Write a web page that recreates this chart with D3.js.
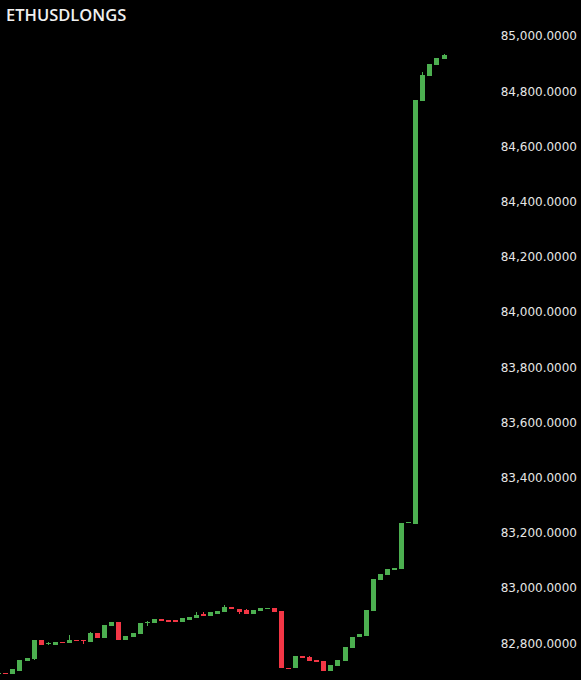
<!DOCTYPE html>
<html><head><meta charset="utf-8">
<script src="https://cdn.jsdelivr.net/npm/d3@7"></script>
<style>html,body{margin:0;padding:0;background:#000;overflow:hidden}</style>
</head><body>
<svg id="c" width="581" height="680"></svg>
<script>
const title = "ETHUSDLONGS";
const openV = [82690.0,82690.9,82688.4,82700.4,82735.5,82741.6,82811.6,82796.0,82793.5,82804.3,82799.6,82811.6,82811.6,82803.2,82835.9,82817.7,82863.4,82875.7,82811.6,82823.5,82834.4,82872.1,82872.1,82886.6,82884.0,82884.0,82877.9,82884.0,82892.4,82904.7,82898.5,82905.8,82914.1,82930.1,82923.9,82920.3,82905.8,82916.7,82922.8,82926.4,82916.7,82711.2,82709.1,82754.7,82751.1,82739.1,82735.5,82699.3,82718.5,82736.6,82783.7,82821.4,82827.2,82917.7,83028.9,83047.1,83066.3,83067.7,83234.4,83231.9,84765.6,84855.1,84894.9,84915.6];
const closeV = [82691.5,82687.3,82705.4,82739.1,82747.5,82811.6,82793.5,82799.6,82804.3,82799.6,82811.6,82806.9,82806.9,82835.9,82817.7,82865.9,82875.7,82811.6,82827.2,82838.0,82872.1,82875.7,82886.6,82880.4,82877.9,82877.9,82890.2,82896.0,82902.2,82898.5,82912.0,82916.7,82930.1,82922.8,82912.0,82905.8,82920.3,82926.4,82926.4,82913.0,82710.1,82707.6,82754.7,82746.4,82736.6,82733.0,82699.3,82721.0,82739.1,82787.3,82823.5,82832.2,82920.3,83032.6,83050.7,83067.7,83071.4,83234.4,83239.1,84768.1,84858.7,84898.6,84919.2,84931.2];
const highV = [82691.5,82690.9,82705.4,82739.1,82747.5,82811.6,82811.6,82805.4,82804.3,82804.3,82829.7,82811.6,82811.6,82841.7,82835.9,82865.9,82875.7,82875.7,82827.2,82838.0,82872.1,82880.4,82886.6,82886.6,82884.0,82884.0,82892.4,82896.0,82912.0,82912.0,82912.0,82916.7,82938.4,82930.1,82923.9,82923.9,82920.3,82926.4,82926.4,82926.4,82916.7,82711.2,82754.7,82754.7,82754.7,82739.1,82735.5,82721.0,82739.1,82787.3,82823.5,82832.2,82920.3,83032.6,83050.7,83067.7,83071.4,83234.4,83239.1,84768.1,84868.5,84898.6,84919.2,84933.7];
const lowV = [82690.0,82687.3,82688.4,82700.4,82735.5,82739.1,82793.5,82793.5,82793.5,82799.6,82799.6,82806.9,82797.1,82803.2,82817.7,82817.7,82863.4,82811.6,82811.6,82823.5,82834.4,82863.4,82872.1,82880.4,82877.9,82877.9,82877.9,82884.0,82892.4,82898.5,82898.5,82905.8,82914.1,82922.8,82905.8,82905.8,82905.8,82916.7,82922.8,82913.0,82710.1,82707.6,82709.1,82746.4,82736.6,82733.0,82699.3,82699.3,82718.5,82736.6,82783.7,82821.4,82827.2,82917.7,83028.9,83047.1,83066.3,83067.7,83234.4,83231.9,84765.6,84855.1,84894.9,84915.6];
const tickValues = [82800,83000,83200,83400,83600,83800,84000,84200,84400,84600,84800,85000];

const svg = d3.select("#c");
const idx = d3.range(openV.length);
const x = d3.scaleLinear().domain([0, openV.length - 1]).range([-1.77, 443.5]);
const y = d3.scaleLinear().domain([82800, 85000]).range([643.3, 36]);
const bodyW = 5;
const up = "#4caf50", down = "#f23645";

svg.append("rect").attr("width",581).attr("height",680).attr("fill","#000");

const g = svg.append("g").attr("shape-rendering","crispEdges");
g.selectAll("line.w").data(idx).join("line")
  .attr("x1", i => Math.round(x(i)) + 0.5).attr("x2", i => Math.round(x(i)) + 0.5)
  .attr("y1", i => y(highV[i])).attr("y2", i => y(lowV[i]))
  .attr("stroke", i => closeV[i] >= openV[i] ? up : down).attr("stroke-width",1);
g.selectAll("rect.b").data(idx).join("rect")
  .attr("x", i => Math.round(x(i)) - 2)
  .attr("width", bodyW)
  .attr("y", i => y(Math.max(openV[i], closeV[i])))
  .attr("height", i => Math.max(1, Math.abs(y(openV[i]) - y(closeV[i]))))
  .attr("fill", i => closeV[i] >= openV[i] ? up : down);

const axis = d3.axisLeft(y).tickValues(tickValues).tickSize(0).tickPadding(0).tickFormat(d3.format(",.4f"));
const ag = svg.append("g").attr("transform","translate(577,0)").call(axis);
ag.select(".domain").remove();
ag.selectAll("text").attr("fill","#e6e6e6").style("font-family","'DejaVu Sans'").style("font-size","12px");

svg.append("text").attr("x",6).attr("y",21).text(title)
  .attr("fill","#f0f0f0").style("font-family","'Open Sans'").style("font-weight","600").style("font-size","16.5px");
</script>
</body></html>
